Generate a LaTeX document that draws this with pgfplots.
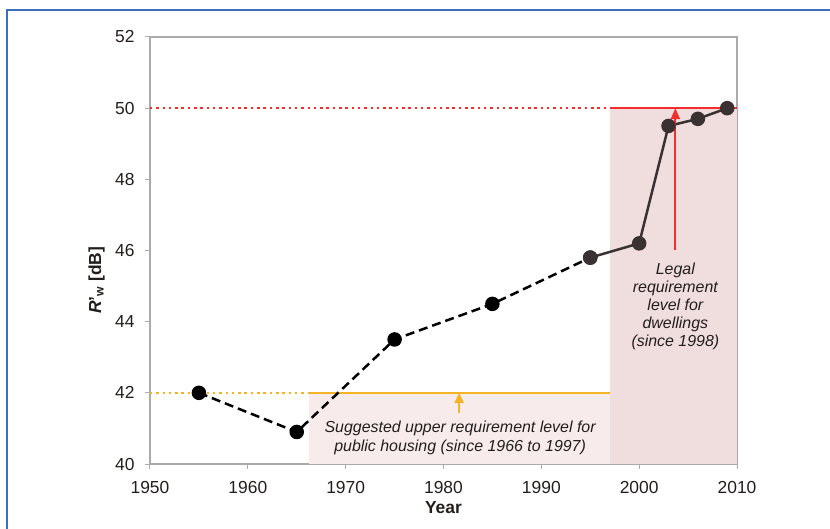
\documentclass[border=0pt]{standalone}
\usepackage{fontspec}
\setmainfont{Liberation Sans}
\usepackage{pgfplots}
\pgfplotsset{compat=1.18}
\usetikzlibrary{arrows.meta}
\definecolor{framec}{RGB}{60,110,190}
\definecolor{axc}{RGB}{170,170,175}
\definecolor{pinkA}{RGB}{247,235,235}
\definecolor{pinkB}{RGB}{240,221,221}
\definecolor{yelc}{RGB}{245,180,40}
\definecolor{redc}{RGB}{245,45,45}
\definecolor{linec}{RGB}{58,50,50}
\definecolor{txtc}{RGB}{35,30,30}
\begin{document}
\begin{tikzpicture}
\path[use as bounding box] (-150bp,-65bp) rectangle (680bp,464bp);
\draw[framec, line width=2bp] (-143bp,-120bp) -- (-143bp,454bp) -- (760bp,454bp);
\begin{axis}[
  at={(0,0)}, anchor=south west,
  scale only axis, width=587bp, height=427bp,
  xmin=1950, xmax=2010, ymin=40, ymax=52,
  xtick={1950,1960,...,2010}, ytick={40,42,...,52},
  tick align=outside, tick pos=left,
  major tick length=5bp,
  tick style={axc, line width=1bp},
  axis line style={axc, line width=1.5bp},
  xticklabel style={/pgf/number format/1000 sep={}, yshift=-9bp},
  yticklabel style={xshift=-7bp},
  /pgf/number format/assume math mode=true,
  tick label style={font=\fontsize{17.5}{20}\selectfont, text=txtc},
  xlabel={\textbf{Year}},
  ylabel={\textbf{\textit{R}'\textsubscript{w} [dB]}},
  label style={font=\fontsize{17.5}{20}\selectfont, text=txtc},
  xlabel style={at={(axis description cs:0.5,-0.103)}, anchor=center},
  ylabel style={at={(axis description cs:-0.091,0.43)}, anchor=center},
  clip=false,
]
% shaded regions
\addplot[draw=none, fill=pinkA] coordinates {(1966.3,40) (1997,40) (1997,42) (1966.3,42)} -- cycle;
\addplot[draw=none, fill=pinkB] coordinates {(1997,40) (2010,40) (2010,50) (1997,50)} -- cycle;
% requirement lines
\addplot[yelc, line width=2.5bp] coordinates {(1966.3,42) (1997,42)};
\addplot[redc, line width=2.5bp, dash pattern=on 2.5bp off 3.8bp] coordinates {(1950,50) (1997,50)};
\addplot[redc, line width=2.5bp] coordinates {(1997,50) (2010,50)};
% data
\addplot[black, line width=2.5bp, dash pattern=on 9bp off 5bp, mark=*, mark size=6bp, mark options={solid, fill=black}]
  coordinates {(1955,42.0) (1965,40.9) (1975,43.5) (1985,44.5) (1995,45.8)};
\addplot[linec, line width=2.5bp, mark=*, mark size=6bp, mark options={solid, fill=linec}]
  coordinates {(1995,45.8) (2000,46.2) (2003,49.5) (2006,49.7) (2009,50.0)};
\addplot[yelc, line width=2.5bp, dash pattern=on 2.5bp off 3.8bp] coordinates {(1950,42) (1966.3,42)};
% arrows
\draw[yelc, line width=2bp, -{Triangle[width=9bp,length=10bp]}] (axis cs:1981.6,41.43) -- (axis cs:1981.6,42.0);
\draw[redc, line width=2bp, -{Triangle[width=9bp,length=11bp]}] (axis cs:2003.7,46.0) -- (axis cs:2003.7,50.0);
% annotations
\node[align=center, text=txtc, font=\fontsize{16}{19.5}\selectfont\itshape] at (axis cs:1981.7,40.74)
  {Suggested upper requirement level for\\public housing (since 1966 to 1997)};
\node[align=center, text=txtc, font=\fontsize{16}{18.3}\selectfont\itshape] at (axis cs:2003.7,44.43)
  {Legal\\requirement\\level for\\dwellings\\(since 1998)};
\end{axis}
\end{tikzpicture}
\end{document}
